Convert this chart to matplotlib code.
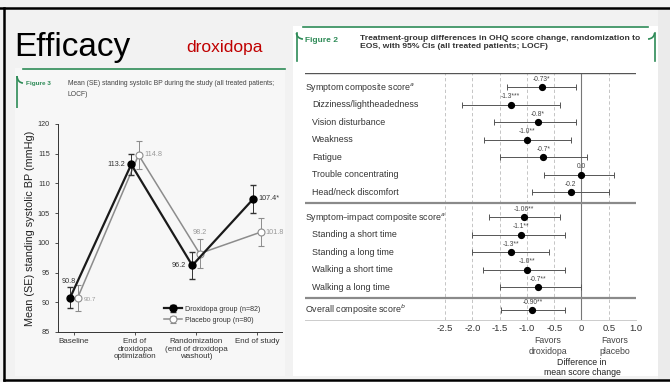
import matplotlib
matplotlib.use('Agg')
import matplotlib.pyplot as plt
from matplotlib.patches import Rectangle, Arc
import numpy as np

plt.rcParams['font.family'] = ['Liberation Sans', 'DejaVu Sans']

# ---------------- data: figure 3 (standing systolic BP) ----------------
visits = ['Baseline', 'End of\ndroxidopa\noptimization',
          'Randomization\n(end of droxidopa\nwashout)', 'End of study']
drox_mean = [90.8, 113.2, 96.2, 107.4]
drox_se = [1.8, 1.8, 2.3, 2.3]
plac_mean = [90.7, 114.8, 98.2, 101.8]
plac_se = [2.2, 2.4, 2.5, 2.4]
drox_lbl = ['90.8', '113.2', '96.2', '107.4*']
plac_lbl = ['90.7', '114.8', '98.2', '101.8']

# ---------------- data: figure 2 (OHQ forest plot) ----------------
groups = [
    ['Symptom composite score$^{a}$', 'Dizziness/lightheadedness', 'Vision disturbance',
     'Weakness', 'Fatigue', 'Trouble concentrating', 'Head/neck discomfort'],
    ['Symptom\u2013impact composite score$^{a}$', 'Standing a short time',
     'Standing a long time', 'Walking a short time', 'Walking a long time'],
    ['Overall composite score$^{b}$'],
]
est = [-0.73, -1.3, -0.8, -1.0, -0.7, 0.0, -0.2,
       -1.06, -1.1, -1.3, -1.0, -0.8,
       -0.90]
ci_lo = [-1.36, -2.19, -1.60, -1.79, -1.50, -0.69, -0.90,
         -1.70, -2.00, -2.00, -1.80, -1.50,
         -1.47]
ci_hi = [-0.10, -0.40, -0.10, -0.20, 0.10, 0.60, 0.50,
         -0.40, -0.30, -0.60, -0.30, 0.00,
         -0.30]
est_lbl = ['-0.73*', '-1.3***', '-0.8*', '-1.0**', '-0.7*', '0.0', '-0.2',
           '-1.06**', '-1.1**', '-1.3**', '-1.0**', '-0.7**',
           '-0.90**']
xticks = [-2.5, -2.0, -1.5, -1.0, -0.5, 0, 0.5, 1.0]
xtick_lbl = ['-2.5', '-2.0', '-1.5', '-1.0', '-0.5', '0', '0.5', '1.0']

W, H = 670, 382
fig = plt.figure(figsize=(W / 100, H / 100), dpi=100)
fig.patch.set_facecolor('#f2f2f2')


def px_rect(x0, y0, x1, y1):
    # pixel box (top-left origin) to figure fraction
    return [x0 / W, 1 - y1 / H, (x1 - x0) / W, (y1 - y0) / H]


bg = fig.add_axes([0, 0, 1, 1])
bg.set_xlim(0, W)
bg.set_ylim(H, 0)
bg.axis('off')

# slide frame
bg.add_patch(Rectangle((0, 0), W, H, facecolor='#f2f2f2', edgecolor='none'))
bg.add_patch(Rectangle((658, 8), 12, 372, facecolor='#ebebeb', edgecolor='none'))
bg.plot([0, W], [7.5, 7.5], color='black', lw=1.8)
bg.plot([4, 4], [7.5, 379.5], color='black', lw=1.8)
bg.plot([4, W], [379.5, 379.5], color='black', lw=1.8)

# panels
bg.add_patch(Rectangle((15, 68), 270, 308, facecolor='#f7f7f7', edgecolor='none'))
bg.add_patch(Rectangle((293, 26), 365, 350, facecolor='white', edgecolor='none'))

green = '#2e8b57'
# green header frames (rounded top corners)
bg.plot([17, 17], [108, 76], color=green, lw=1.2, solid_capstyle='butt')
bg.plot([23, 285], [69, 69], color=green, lw=1.2)
bg.add_patch(Arc((23, 76), 12, 14, theta1=90, theta2=180, color=green, lw=1.2))
bg.plot([296.5, 296.5], [61, 33], color=green, lw=1.2)
bg.plot([303, 648], [27, 27], color=green, lw=1.2)
bg.plot([654.5, 654.5], [61, 33], color=green, lw=1.2)
bg.add_patch(Arc((303, 33), 13, 12, theta1=90, theta2=180, color=green, lw=1.2))
bg.add_patch(Arc((648, 33), 13, 12, theta1=0, theta2=90, color=green, lw=1.2))

# slide title
bg.text(14, 56, 'Efficacy', fontsize=24, color='black', va='baseline')
bg.text(186, 52, 'droxidopa', fontsize=12.5, color='#c00000', va='baseline')

# figure captions
bg.text(26, 84, 'Figure 3', fontsize=4.6, color=green, fontweight='bold', va='center')
bg.text(68, 80, 'Mean (SE) standing systolic BP during the study (all treated patients;\nLOCF)',
        fontsize=4.9, color='#444444', va='top', ha='left', linespacing=1.7)
bg.text(305, 40, 'Figure 2', fontsize=6, color=green, fontweight='bold', va='center')
bg.text(360, 34.5, 'Treatment-group differences in OHQ score change, randomization to\n'
                   'EOS, with 95% CIs (all treated patients; LOCF)',
        fontsize=6.1, color='#333333', fontweight='bold', va='top', linespacing=1.35)

# ---------------- left: line chart ----------------
ax1 = fig.add_axes(px_rect(58, 124, 282, 332))
ax1.set_facecolor('none')
xpos = np.arange(len(visits))
off = 0.06
ax1.errorbar(xpos + off, plac_mean, yerr=plac_se, color='#8c8c8c', lw=1.1, marker='o',
             ms=5, mfc='white', mec='#8c8c8c', mew=0.8, capsize=2.5, elinewidth=0.7,
             ecolor='#8c8c8c', label='Placebo group (n=80)', zorder=2)
ax1.errorbar(xpos - off, drox_mean, yerr=drox_se, color='#1a1a1a', lw=1.6, marker='o',
             ms=5, mfc='black', mec='black', capsize=2.5, elinewidth=0.7,
             ecolor='#333333', label='Droxidopa group (n=82)', zorder=3)
ax1.set_xlim(-0.26, 3.41)
ax1.set_ylim(85, 120)
ax1.set_yticks(range(85, 121, 5))
ax1.set_xticks(xpos)
ax1.set_xticklabels(visits, fontsize=5.8, color='#333333', linespacing=1.1)
ax1.tick_params(axis='y', labelsize=5.2, colors='#333333', length=2.5, width=0.6)
ax1.tick_params(axis='x', length=2.5, width=0.6, colors='#333333', pad=2)
for s in ['top', 'right']:
    ax1.spines[s].set_visible(False)
for s in ['left', 'bottom']:
    ax1.spines[s].set_color('#333333')
    ax1.spines[s].set_linewidth(0.7)
ax1.set_ylabel('Mean (SE) standing systolic BP (mmHg)', fontsize=7.8, color='#222222', labelpad=2)

# point labels
fs_pt = 5.2
ax1.text(xpos[0] - off - 0.02, drox_mean[0] + 2.4, drox_lbl[0], fontsize=fs_pt, color='#333333', ha='center')
ax1.text(xpos[0] + off + 0.1, plac_mean[0] - 0.2, plac_lbl[0], fontsize=fs_pt - 0.6, color='#999999', va='center')
ax1.text(xpos[1] - off - 0.1, drox_mean[1], drox_lbl[1], fontsize=fs_pt, color='#333333', ha='right', va='center')
ax1.text(xpos[1] + off + 0.09, plac_mean[1], plac_lbl[1], fontsize=fs_pt, color='#999999', va='center')
ax1.text(xpos[2] - off - 0.1, drox_mean[2], drox_lbl[2], fontsize=fs_pt, color='#333333', ha='right', va='center')
ax1.text(xpos[2] + off, plac_mean[2] + 3.3, plac_lbl[2], fontsize=fs_pt, color='#999999', ha='center')
ax1.text(xpos[3] - off + 0.09, drox_mean[3], drox_lbl[3], fontsize=fs_pt, color='#333333', va='center')
ax1.text(xpos[3] + off + 0.07, plac_mean[3], plac_lbl[3], fontsize=fs_pt, color='#999999', va='center')

h, l = ax1.get_legend_handles_labels()
ax1.legend(h[::-1], l[::-1], loc='lower right', bbox_to_anchor=(0.93, 0.01), frameon=False,
           fontsize=5.1, handlelength=2.6, labelspacing=0.55, handletextpad=0.3, labelcolor='#333333')

# ---------------- right: forest plot ----------------
row_y = []
sep_y = []
y = 0.0
for gi, g in enumerate(groups):
    if gi > 0:
        sep_y.append(y - 1 + 0.63)
        y += 0.43 if gi == 1 else 0.31
    for _ in g:
        row_y.append(y)
        y += 1
labels = [t for g in groups for t in g]
is_head = [i == 0 for g in groups for i in range(len(g))]

ax2 = fig.add_axes(px_rect(305, 73, 636, 320))
ax2.set_facecolor('none')
ax2.set_xlim(-5.07, 1.0)
ax2.set_ylim(row_y[-1] + 0.57, -0.8)
for xt in xticks:
    if xt == 0:
        ax2.axvline(0, color='#777777', lw=0.8, zorder=1)
    else:
        ax2.axvline(xt, color='#bbbbbb', lw=0.6, ls=(0, (4, 3)), zorder=1)
ax2.errorbar(est, row_y, xerr=[np.array(est) - np.array(ci_lo), np.array(ci_hi) - np.array(est)],
             fmt='o', color='black', ms=4.2, ecolor='#555555', elinewidth=0.7, capsize=2,
             capthick=0.7, zorder=3)
for yy, e, t in zip(row_y, est, est_lbl):
    ax2.text(e, yy - 0.44, t, fontsize=4.8, color='#444444', ha='center', va='center')
for yy, t, hd in zip(row_y, labels, is_head):
    ax2.text(-5.07 if hd else -4.94, yy, t, fontsize=6.4, color='#333333', va='center', ha='left')
for s in sep_y:
    ax2.axhline(s, color='#8a8a8a', lw=1.6, zorder=2)
ax2.axhline(-0.8, color='#555555', lw=1.0, zorder=2)
for s in ['top', 'right', 'left']:
    ax2.spines[s].set_visible(False)
ax2.spines['bottom'].set_color('#cccccc')
ax2.spines['bottom'].set_linewidth(0.7)
ax2.set_yticks([])
ax2.set_xticks(xticks)
ax2.set_xticklabels(xtick_lbl, fontsize=6.8, color='#333333')
ax2.tick_params(axis='x', length=0, pad=3)

bg.text(548, 346, 'Favors\ndroxidopa', fontsize=6.3, color='#444444', ha='center', va='center', linespacing=1.15)
bg.text(615, 346, 'Favors\nplacebo', fontsize=6.3, color='#444444', ha='center', va='center', linespacing=1.15)
bg.text(582, 367.5, 'Difference in\nmean score change', fontsize=6.3, color='#222222', ha='center',
        va='center', linespacing=1.15)

fig.savefig('out.png', dpi=100, facecolor=fig.get_facecolor())
